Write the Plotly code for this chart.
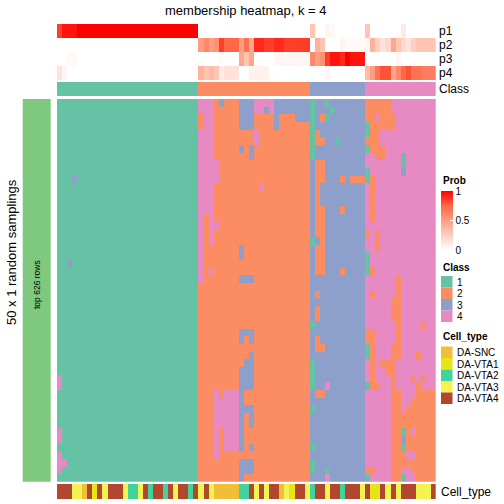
import plotly.graph_objects as go

W = H = 504
FONT = "Liberation Sans, Arial, sans-serif"

# ---------------- data ----------------
class_labels = ["1", "2", "3", "4"]
class_colors = ["#66C2A5", "#FC8D62", "#8DA0CB", "#E78AC3"]
class_sizes = [28, 22, 11, 14]          # columns per class (left to right)

cell_types = ["DA-SNC", "DA-VTA1", "DA-VTA2", "DA-VTA3", "DA-VTA4"]
cell_colors = ["#F0BE38", "#E6E617", "#42D39C", "#F3F352", "#B2472F"]
cell_codes = "S1234"
cell_type_row = ("44433S4143" "4443223424" "4243442434" "3SSSSS2243" "4344S31443"
                 "2443442444" "3411434344" "43334")

p1 = [0.85, 0.95, 0.95, 0.95] + [1.0] * 24 + [0] * 22 + \
     [0.3, 0, 0, 0.05, 0.03, 0, 0, 0, 0, 0, 0] + \
     [0.3, 0, 0, 0, 0, 0, 0, 0.1, 0, 0, 0, 0, 0, 0]
p2 = [0] * 28 + \
     [0.5, 0.6, 0.5, 0.55, 0.85, 0.75, 0.75, 0.75, 0.5, 0.7, 0.45,
      0.9, 0.9, 0.85, 0.85, 0.9, 0.9, 0.85, 0.85, 0.85, 0.85, 0.85] + \
     [0, 0.4, 0.3, 0, 0, 0, 0.05, 0.02, 0.03, 0.03, 0.03] + \
     [0.05, 0.4, 0.25, 0.15, 0.2, 0.45, 0.3, 0.2, 0.15, 0.25, 0.3, 0.3, 0.3, 0.3]
p3 = [0, 0, 0.03, 0.03] + [0] * 24 + \
     [0, 0, 0, 0, 0.03, 0, 0, 0, 0.45, 0.3, 0.45,
      0, 0, 0, 0, 0.05, 0.05, 0.05, 0.05, 0.05, 0.05, 0.05] + \
     [0.6, 0.5, 0.55, 0.85, 0.95, 0.95, 0.9, 1.0, 0.95, 0.95, 0.95] + \
     [0, 0, 0, 0, 0, 0, 0.05, 0, 0, 0, 0, 0, 0, 0]
p4 = [0.15, 0.05, 0, 0] + [0] * 24 + \
     [0.4, 0.3, 0.35, 0.3, 0.1, 0.15, 0.15, 0.15, 0, 0, 0.07,
      0.07, 0.07, 0.07, 0, 0, 0, 0, 0, 0, 0, 0] + \
     [0, 0, 0, 0.05, 0, 0, 0, 0, 0, 0, 0] + \
     [0.35, 0.5, 0.7, 0.8, 0.8, 0.45, 0.6, 0.75, 0.8, 0.7, 0.7, 0.65, 0.65, 0.65]
prob_labels = ["p1", "p2", "p3", "p4"]

# membership of each sampling (row, top to bottom) per column, run-length per column
col_runs = [
    "1x36 4x2 1x5 4x2 1x1 4x3 1x1",
    "1x47 4x1 1x2",
    "1x21 3x1 1x28",
    "1x10 3x1 1x39",
] + ["1x50"] * 24 + [
    "4x2 2x2 4x20 2x26",
    "4x15 2x35",
    "4x19 2x3 4x1 2x27",
    "2x8 4x3 2x5 4x1 2x21 4x9 2x3",
    "3x1 2x38 4x4 2x7",
    "2x38 4x8 2x4",
    "2x38 4x8 2x4",
    "2x38 4x8 2x4",
    "3x4 2x2 3x1 2x12 3x2 2x2 3x1 2x6 3x2 2x3 3x11 2x1 3x3",
    "3x4 2x19 3x1 2x6 3x1 2x3 3x4 2x2 3x1 2x6 3x2 2x1",
    "3x4 2x2 3x2 2x15 3x1 2x6 3x2 2x1 3x5 2x2 3x3 2x2 3x1 2x1 3x2 2x1",
    "4x2 2x2 4x2 2x44",
    "4x2 2x9 4x1 2x38",
    "4x1 3x1 2x48",
    "4x2 2x48",
    "3x4 2x46",
    "3x2 2x48",
    "3x2 2x48",
    "3x2 2x48",
    "3x3 2x47",
    "3x3 2x47",
    "3x3 2x47",
    "1x8 3x10 1x1 3x10 1x1 3x4 1x4 3x2 1x1 3x4 1x1 3x1 1x2 3x1",
    "3x4 2x2 3x2 2x10 3x1 2x4 3x2 2x1 3x1 2x2 3x2 2x2 3x5 2x1 3x11",
    "3x2 2x1 3x2 2x1 3x2 2x3 3x3 2x9 3x9 2x1 3x5 2x1 3x11",
    "1x1 3x1 1x1 3x34 4x1 3x10 1x1 4x1",
    "3x1 1x1 3x48",
    "3x5 1x1 3x44",
    "3x10 2x1 3x3 2x1 3x7 2x1 3x27",
    "3x50",
    "3x10 2x1 3x39",
    "3x10 2x1 3x39",
    "3x10 2x1 3x39",
    "2x3 1x2 2x1 1x1 4x2 1x2 4x6 2x1 4x2 1x3 4x7 2x2 1x2 4x3 1x1 4x10 2x1 1x1",
    "2x7 4x3 2x6 4x6 2x1 4x2 2x1 4x4 2x8 4x10 2x1 4x1",
    "2x2 4x1 2x5 4x9 2x3 4x17 2x1 4x12",
    "2x4 4x2 2x2 4x26 2x1 4x15",
    "2x4 4x30 2x2 4x14",
    "4x2 2x2 4x22 2x3 4x3 2x18",
    "4x23 2x11 4x4 2x12",
    "4x7 1x2 3x1 4x31 2x2 1x1 3x1 1x1 2x2 4x1 1x1",
    "4x40 2x6 4x1 2x1 4x2",
    "4x36 2x1 4x2 2x4 4x1 2x2 4x1 2x2 4x1",
    "4x33 2x1 4x3 2x13",
    "4x29 2x1 4x6 2x1 4x1 2x12",
    "4x38 2x12",
    "4x38 2x12",
]

# ---------------- build ----------------
def decode(run):
    out = []
    for tok in run.split():
        c, n = tok.split("x")
        out += [int(c)] * int(n)
    return out

cols = [decode(r) for r in col_runs]
ncol = len(cols)
nrow = len(cols[0])
z_main = [[cols[j][i] for j in range(ncol)] for i in range(nrow)]

col_class = []
for k, n in enumerate(class_sizes):
    col_class += [k + 1] * n
z_cell = [[cell_codes.index(c) + 1 for c in cell_type_row]]


def discrete_scale(colors):
    n = len(colors)
    sc = []
    for i, c in enumerate(colors):
        sc.append([i / n, c])
        sc.append([(i + 1) / n, c])
    return sc


prob_scale = [[0, "#FFFFFF"], [0.25, "#FFCFBF"], [0.5, "#FF9D81"],
              [0.75, "#FF6846"], [1, "#FF0000"]]

xs = list(range(ncol))


def py(p):  # window pixel y -> paper
    return 1 - p / H


def px(p):  # window pixel x -> paper
    return p / W


fig = go.Figure()

fig.add_trace(go.Heatmap(
    z=[p1, p2, p3, p4], x=xs, y=list(range(4)), zmin=0, zmax=1,
    colorscale=prob_scale, xaxis="x", yaxis="y2", hoverinfo="skip",
    colorbar=dict(x=px(441), xanchor="left", y=py(191), yanchor="top",
                  lenmode="pixels", len=59, thickness=12, outlinewidth=0,
                  xpad=0, ypad=0, tickvals=[0, 0.5, 1], ticktext=["0", "0.5", "1"],
                  ticks="inside", ticklen=3, tickcolor="white",
                  tickfont=dict(family=FONT, size=10, color="black"))))

fig.add_trace(go.Heatmap(
    z=[col_class], x=xs, y=[0], zmin=0.5, zmax=4.5,
    colorscale=discrete_scale(class_colors), showscale=False,
    xaxis="x", yaxis="y3", hoverinfo="skip"))

fig.add_trace(go.Heatmap(
    z=z_main, x=xs, y=list(range(nrow)), zmin=0.5, zmax=4.5,
    colorscale=discrete_scale(class_colors), showscale=False,
    xaxis="x", yaxis="y", hoverinfo="skip"))

fig.add_trace(go.Heatmap(
    z=z_cell, x=xs, y=[0], zmin=0.5, zmax=5.5,
    colorscale=discrete_scale(cell_colors), showscale=False,
    xaxis="x", yaxis="y4", hoverinfo="skip"))

hidden = dict(showticklabels=False, showgrid=False, zeroline=False,
              ticks="", showline=False, fixedrange=True)
x0p, x1p = 57, 435.7
fig.update_layout(
    width=W, height=H, margin=dict(l=0, r=0, t=0, b=0),
    paper_bgcolor="white", plot_bgcolor="white", showlegend=False,
    xaxis=dict(domain=[px(x0p), px(x1p)], range=[-0.5, ncol - 0.5], **hidden),
    yaxis=dict(domain=[py(481.7), py(99)], range=[nrow - 0.5, -0.5], anchor="x", **hidden),
    yaxis2=dict(domain=[py(80), py(24)], range=[3.5, -0.5], anchor="x", **hidden),
    yaxis3=dict(domain=[py(96), py(82)], range=[-0.5, 0.5], anchor="x", **hidden),
    yaxis4=dict(domain=[py(499), py(484)], range=[-0.5, 0.5], anchor="x", **hidden),
    font=dict(family=FONT, color="black"),
)

ann = []
shapes = []


def text(x, y, s, size, xanchor="left", angle=0, bold=False):
    ann.append(dict(x=px(x), y=py(y), xref="paper", yref="paper", text=("<b>%s</b>" % s) if bold else s,
                    showarrow=False, xanchor=xanchor, yanchor="middle", textangle=angle,
                    font=dict(family=FONT, size=size, color="black")))


text(246, 10, "membership heatmap, k = 4", 13, xanchor="center")
text(11, 252, "50 x 1 random samplings", 13, xanchor="center", angle=-90)

# row-slice bar on the left
shapes.append(dict(type="rect", xref="paper", yref="paper", x0=px(22.7), x1=px(50.7),
                   y0=py(481.7), y1=py(99), fillcolor="#7FC97F", line=dict(width=0)))
text(37, 285, "top 626 rows", 8.5, xanchor="center", angle=-90)

# annotation names on the right
for i, lab in enumerate(prob_labels):
    text(437, 31 + 14 * i, lab, 12)
text(437, 89, "Class", 12)
text(439, 491.5, "Cell_type", 12)

# legends
text(440.5, 180.5, "Prob", 10, bold=True)
text(440.5, 267, "Class", 10, bold=True)
for i, (lab, col) in enumerate(zip(class_labels, class_colors)):
    top = 276 + 11.5 * i
    shapes.append(dict(type="rect", xref="paper", yref="paper", x0=px(441), x1=px(452.5),
                       y0=py(top + 11.5), y1=py(top), fillcolor=col, line=dict(width=0)))
    text(455, top + 6, lab, 10)
text(440.5, 336, "Cell_type", 10, bold=True)
for i, (lab, col) in enumerate(zip(cell_types, cell_colors)):
    top = 346.5 + 11.5 * i
    shapes.append(dict(type="rect", xref="paper", yref="paper", x0=px(441), x1=px(452.5),
                       y0=py(top + 11.5), y1=py(top), fillcolor=col, line=dict(width=0)))
    text(455, top + 6, lab, 10)

fig.update_layout(annotations=ann, shapes=shapes)
# remove the page's default 8px body margin so the 504x504 figure fills the window
fig.write_html("out.html", config={"displayModeBar": False},
               post_script="document.body.style.margin='0px';")
